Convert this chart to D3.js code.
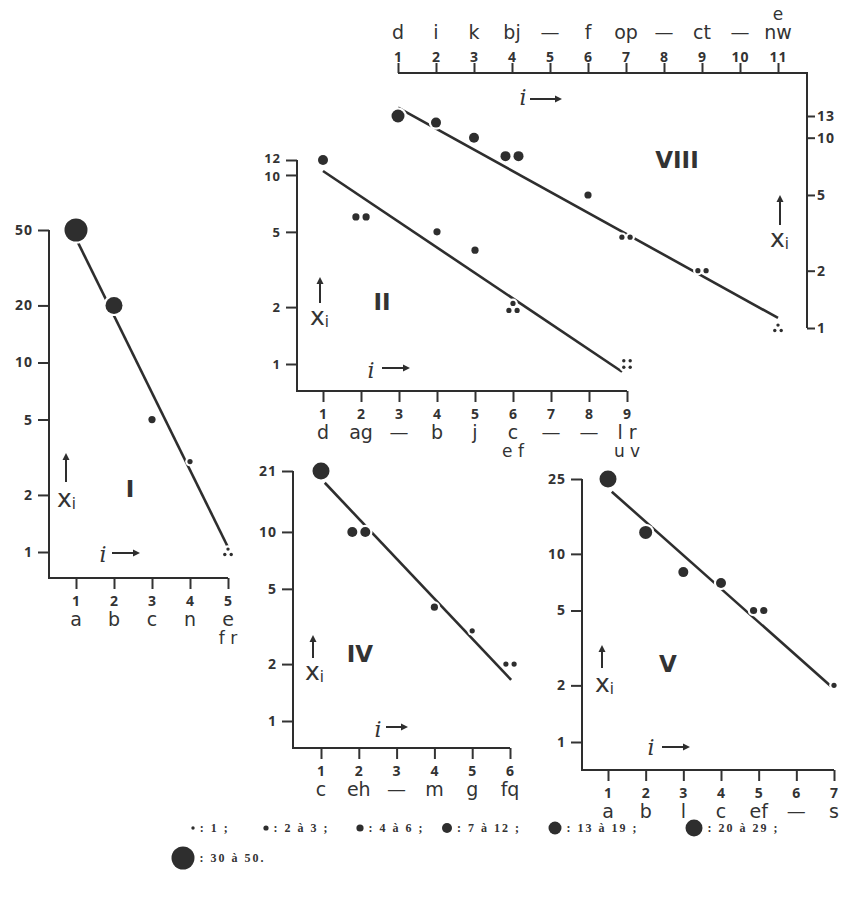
<!DOCTYPE html>
<html>
  <head>
    <title>Rangs i et effectifs xi</title>
    <meta charset="utf-8">
    <script src="https://d3js.org/d3.v7.min.js"></script>
    <style>
      body {
        margin: 0;
        background: #fff;
      }
      svg {
        display: block;
      }
      .num text {
        font-family: "Open Sans", sans-serif;
        font-weight: 700;
        font-size: 14px;
        letter-spacing: 1px;
        fill: #333;
      }
      .num.tight text {
        font-size: 13px;
      }
      .num line {
        stroke: #333;
        stroke-width: 2px;
      }
      .item {
        font-family: "DejaVu Sans", sans-serif;
        font-size: 19px;
        fill: #333;
        text-anchor: middle;
      }
      .item.second {
        font-size: 17px;
      }
      .numeral {
        font-family: "DejaVu Sans", sans-serif;
        font-weight: 700;
        font-size: 23px;
        fill: #333;
        text-anchor: middle;
      }
      .xi {
        font-family: "DejaVu Sans", sans-serif;
        font-size: 25px;
        fill: #333;
      }
      .ilabel {
        font-family: "DejaVu Serif", serif;
        font-style: italic;
        font-size: 22px;
        fill: #333;
        text-anchor: middle;
      }
      .legend text {
        font-family: "Liberation Serif", serif;
        font-weight: 700;
        font-size: 12px;
        letter-spacing: 2px;
        fill: #333;
      }
    </style>
  </head>
  <body>
    <svg id="chart" width="841" height="898"></svg>
    <script>
      // panel I
      const ranksI = [1, 2, 3, 4, 5]
      const valuesI = [50, 20, 5, 3, 1]
      const itemsI = ["a", "b", "c", "n", "e"]
      const extraI = ["", "", "", "", "f r"]
      const yTicksI = [1, 2, 5, 10, 20, 50]
      const fitI = [[1.05, 43], [5, 1.06]]

      // panel II
      const ranksII = [1, 2, 3, 4, 5, 6, 7, 8, 9]
      const valuesII = [12, 6, null, 5, 4, 2, null, null, 1]
      const itemsII = ["d", "ag", "—", "b", "j", "c", "—", "—", "l r"]
      const extraII = ["", "", "", "", "", "e f", "", "", "u v"]
      const yTicksII = [1, 2, 5, 10, 12]
      const fitII = [[1, 10.5], [8.87, 0.91]]

      // panel VIII
      const ranksVIII = [1, 2, 3, 4, 5, 6, 7, 8, 9, 10, 11]
      const valuesVIII = [13, 12, 10, 8, null, 5, 3, null, 2, null, 1]
      const itemsVIII = ["d", "i", "k", "bj", "—", "f", "op", "—", "ct", "—", "nw"]
      const extraVIII = ["", "", "", "", "", "", "", "", "", "", "e"]
      const yTicksVIII = [1, 2, 5, 10, 13]
      const fitVIII = [[1, 14.4], [11, 1.13]]

      // panel IV
      const ranksIV = [1, 2, 3, 4, 5, 6]
      const valuesIV = [21, 10, null, 4, 3, 2]
      const itemsIV = ["c", "eh", "—", "m", "g", "fq"]
      const extraIV = ["", "", "", "", "", ""]
      const yTicksIV = [1, 2, 5, 10, 21]
      const fitIV = [[1.1, 18.2], [6.03, 1.65]]

      // panel V
      const ranksV = [1, 2, 3, 4, 5, 6, 7]
      const valuesV = [25, 13, 8, 7, 5, null, 2]
      const itemsV = ["a", "b", "l", "c", "ef", "—", "s"]
      const extraV = ["", "", "", "", "", "", ""]
      const yTicksV = [1, 2, 5, 10, 25]
      const fitV = [[1.1, 21.4], [6.94, 1.96]]

      // legend classes
      const legendValues = [1, 2, 4, 7, 13, 20, 30]
      const legendTexts = [": 1 ;", ": 2 à 3 ;", ": 4 à 6 ;", ": 7 à 12 ;", ": 13 à 19 ;", ": 20 à 29 ;", ": 30 à 50."]

      const ink = "#2e2e2e"
      const svg = d3.select("#chart")
      svg.append("rect").attr("width", 841).attr("height", 898).attr("fill", "#fff")

      const rScale = d3.scaleThreshold()
        .domain([2, 4, 7, 13, 20, 30])
        .range([1.7, 2.6, 3.6, 5, 6.5, 8.5, 11.5])

      const panels = [
        {name: "I", ranks: ranksI, values: valuesI, items: itemsI, extra: extraI, yTicks: yTicksI, fit: fitI,
          xRange: [76, 228], yRange: [552, 230], yAxisX: 49, xAxisY: 578, top: false,
          numeral: [130, 497], up: [66, 453, 482], xi: [57, 507], il: [103, 562], arrow: [112, 140, 553]},
        {name: "II", ranks: ranksII, values: valuesII, items: itemsII, extra: extraII, yTicks: yTicksII, fit: fitII,
          xRange: [323, 627], yRange: [364, 160], yAxisX: 297, xAxisY: 391, top: false, tight: true,
          numeral: [382, 310], up: [320, 277, 303], xi: [310, 325], il: [371, 378], arrow: [382, 410, 368]},
        {name: "VIII", ranks: ranksVIII, values: valuesVIII, items: itemsVIII, extra: extraVIII, yTicks: yTicksVIII, fit: fitVIII,
          xRange: [398, 778], yRange: [328, 116], yAxisX: 807, xAxisY: 73, top: true,
          numeral: [677, 168], up: [780, 195, 225], xi: [770, 247], il: [523, 105], arrow: [530, 562, 99]},
        {name: "IV", ranks: ranksIV, values: valuesIV, items: itemsIV, extra: extraIV, yTicks: yTicksIV, fit: fitIV,
          xRange: [321, 510], yRange: [721, 471], yAxisX: 293, xAxisY: 748, top: false,
          numeral: [360, 662], up: [313, 635, 658], xi: [305, 680], il: [378, 737], arrow: [386, 408, 727]},
        {name: "V", ranks: ranksV, values: valuesV, items: itemsV, extra: extraV, yTicks: yTicksV, fit: fitV,
          xRange: [608, 834], yRange: [742, 479], yAxisX: 582, xAxisY: 770, top: false,
          numeral: [668, 672], up: [602, 645, 668], xi: [595, 692], il: [651, 755], arrow: [662, 690, 747]}
      ]

      // where the six legend dots of the first row sit
      const legendDotX = [193, 266, 360, 447, 555, 694]

      // tied items sit next to each other
      function offsets(n, r) {
        const s = 2 * r + 3
        if (n === 2) return [[-s / 2, 0], [s / 2, 0]]
        if (n === 3) return [[0, -s * 0.45], [-s / 2, s * 0.4], [s / 2, s * 0.4]]
        if (n === 4) return [[-s / 2, -s / 2], [s / 2, -s / 2], [-s / 2, s / 2], [s / 2, s / 2]]
        return [[0, 0]]
      }

      function arrow(g, x1, y1, x2, y2) {
        const a = Math.atan2(y2 - y1, x2 - x1)
        const len = 7, w = 3.5
        const bx = x2 - len * Math.cos(a), by = y2 - len * Math.sin(a)
        g.append("line").attr("x1", x1).attr("y1", y1).attr("x2", bx).attr("y2", by)
          .attr("stroke", ink).attr("stroke-width", 2)
        g.append("path")
          .attr("d", `M${x2},${y2}L${bx - w * Math.sin(a)},${by + w * Math.cos(a)}L${bx + w * Math.sin(a)},${by - w * Math.cos(a)}Z`)
          .attr("fill", ink)
      }

      function drawPanel(p) {
        const g = svg.append("g")
        const x = d3.scaleLinear().domain([1, d3.max(p.ranks)]).range(p.xRange)
        const y = d3.scaleLog().domain([1, d3.max(p.yTicks)]).range(p.yRange)

        const xAxis = (p.top ? d3.axisTop(x) : d3.axisBottom(x))
          .tickValues(p.ranks).tickFormat(d3.format("d"))
          .tickSize(p.top ? 10 : 11).tickPadding(p.top ? 1 : 7)
        const gx = g.append("g").attr("class", "num")
          .attr("transform", `translate(0,${p.xAxisY})`).call(xAxis)
        gx.select(".domain").remove()

        const yAxis = (p.top ? d3.axisRight(y) : d3.axisLeft(y))
          .tickValues(p.yTicks).tickFormat(d3.format("d"))
          .tickSize(p.top ? 8 : 11).tickPadding(p.top ? 2 : 5)
        const gy = g.append("g").attr("class", p.tight ? "num tight" : "num")
          .attr("transform", `translate(${p.yAxisX},0)`).call(yAxis)
        gy.select(".domain").remove()
        gx.selectAll("text, line").attr("fill", null)
        gy.selectAll("text, line").attr("fill", null)
        // the two top labels of panel II nearly touch, as in the print
        if (p.tight) gy.selectAll(".tick text").attr("dy", d => d === 12 ? "0.2em" : d === 10 ? "0.42em" : "0.32em")

        const yTop = y(d3.max(p.yTicks))
        const xEnd = x(d3.max(p.ranks))
        const spine = p.top
          ? [[x(1), p.xAxisY], [p.yAxisX, p.xAxisY], [p.yAxisX, y(1)]]
          : [[p.yAxisX, yTop], [p.yAxisX, p.xAxisY], [xEnd, p.xAxisY]]
        g.append("path").attr("d", d3.line()(spine))
          .attr("fill", "none").attr("stroke", ink).attr("stroke-width", 2)

        // item letters under (or over) the rank numbers
        const letterY = p.top ? p.xAxisY - 34 : p.xAxisY + 48
        const extraY = p.top ? letterY - 19 : letterY + 18
        g.selectAll(".item1").data(p.ranks).join("text")
          .attr("class", "item").attr("x", d => x(d)).attr("y", letterY)
          .text((d, i) => p.items[i])
        g.selectAll(".item2").data(p.ranks.filter((d, i) => p.extra[i])).join("text")
          .attr("class", "item second").attr("x", d => x(d)).attr("y", extraY)
          .text(d => p.extra[p.ranks.indexOf(d)])

        // fitted line
        g.append("path")
          .attr("d", d3.line().x(d => x(d[0])).y(d => y(d[1]))(p.fit))
          .attr("stroke", ink).attr("stroke-width", 2.6).attr("fill", "none")

        const dots = []
        p.ranks.forEach((rk, i) => {
          const v = p.values[i]
          if (v == null) return
          const n = (p.items[i] + p.extra[i]).replace(/[^a-z]/g, "").length
          const r = rScale(v)
          offsets(n, r).forEach(([dx, dy]) => dots.push({cx: x(rk) + dx, cy: y(v) + dy, r}))
        })
        g.selectAll(".halo").data(dots).join("circle")
          .attr("cx", d => d.cx).attr("cy", d => d.cy).attr("r", d => d.r + 2.2).attr("fill", "#fff")
        g.selectAll(".dot").data(dots).join("circle")
          .attr("cx", d => d.cx).attr("cy", d => d.cy).attr("r", d => d.r).attr("fill", ink)

        g.append("text").attr("class", "numeral")
          .attr("x", p.numeral[0]).attr("y", p.numeral[1]).text(p.name)

        arrow(g, p.up[0], p.up[2], p.up[0], p.up[1])
        const xi = g.append("text").attr("class", "xi").attr("x", p.xi[0]).attr("y", p.xi[1]).text("x")
        xi.append("tspan").attr("font-size", 15).attr("dy", 2).text("i")

        g.append("text").attr("class", "ilabel").attr("x", p.il[0]).attr("y", p.il[1]).text("i")
        arrow(g, p.arrow[0], p.arrow[2], p.arrow[1], p.arrow[2])
      }

      panels.forEach(drawPanel)

      // legend of dot sizes
      const lg = svg.append("g").attr("class", "legend")
      legendDotX.forEach((cx, i) => {
        const r = rScale(legendValues[i])
        lg.append("circle").attr("cx", cx).attr("cy", 828).attr("r", r).attr("fill", ink)
        lg.append("text").attr("x", cx + r + 5).attr("y", 832).text(legendTexts[i])
      })
      const rBig = rScale(legendValues[6])
      lg.append("circle").attr("cx", 183).attr("cy", 858).attr("r", rBig).attr("fill", ink)
      lg.append("text").attr("x", 183 + rBig + 5).attr("y", 862).text(legendTexts[6])
    </script>
  </body>
</html>
